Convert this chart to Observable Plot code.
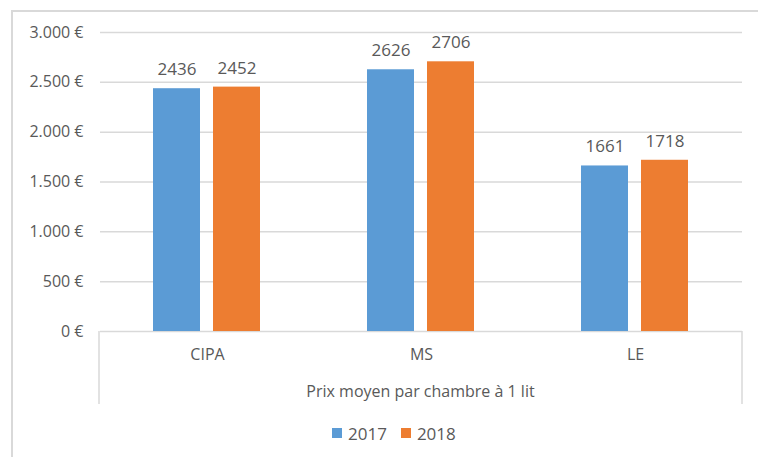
<!DOCTYPE html>
<html>
<head>
<meta charset="utf-8">
<script src="https://cdn.jsdelivr.net/npm/d3@7"></script>
<script src="https://cdn.jsdelivr.net/npm/@observablehq/plot@0.6"></script>
<style>
  html, body { margin: 0; padding: 0; background: #fff; overflow: hidden; width: 758px; height: 457px; }
  #frame { position: absolute; left: 11px; top: 10px; width: 800px; height: 500px; border: 2px solid #d9d9d9; box-sizing: border-box; }
  #chart { position: absolute; left: 0; top: 0; }
  #legend { position: absolute; left: 0; top: 415px; width: 758px; height: 36px; display: flex; align-items: center; font-family: "Open Sans", sans-serif; font-size: 17px; color: #595959; }
  .item { display: flex; align-items: center; }
  .sw { width: 10px; height: 10px; margin-right: 6px; }
</style>
</head>
<body>
<div id="frame"></div>
<div id="chart"></div>
<script>
const categories = ["CIPA", "MS", "LE"];
const years = ["2017", "2018"];
const values2017 = [2436, 2626, 1661];
const values2018 = [2452, 2706, 1718];
const yTicks = [0, 500, 1000, 1500, 2000, 2500, 3000];
const colors = ["#5B9BD5", "#ED7D31"];
const axisTitle = "Prix moyen par chambre à 1 lit";

const data = [];
categories.forEach((c, i) => {
  data.push({cat: c, year: years[0], value: values2017[i]});
  data.push({cat: c, year: years[1], value: values2018[i]});
});

const W = 758, H = 415, mL = 99, mR = 16, mT = 32, mB = 84;
const fmt = d => d3.format(",")(d).replace(/,/g, ".") + " €";

const plot = Plot.plot({
  width: W, height: H,
  marginLeft: mL, marginRight: mR, marginTop: mT, marginBottom: mB,
  style: {fontFamily: "'Open Sans', sans-serif", color: "#595959", background: "transparent"},
  fx: {domain: categories, padding: 0},
  x: {domain: years, paddingInner: 0.213, paddingOuter: 0.866, axis: null},
  y: {domain: [0, 3000]},
  color: {domain: years, range: colors},
  marks: [
    Plot.gridY(yTicks.filter(d => d > 0), {stroke: "#d9d9d9", strokeOpacity: 1, strokeWidth: 1.5}),
    Plot.ruleY([0], {stroke: "#d9d9d9", strokeWidth: 1.5}),
    Plot.barY(data, {fx: "cat", x: "year", y: "value", fill: "year"}),
    Plot.text(data, {fx: "cat", x: "year", y: "value", text: d => String(d.value), dy: -19, fontSize: 17, fill: "#595959"}),
    Plot.axisY({ticks: yTicks, tickFormat: fmt, tickSize: 0, tickPadding: 17, fontSize: 16, label: null}),
    Plot.axisFx({anchor: "bottom", tickSize: 0, tickPadding: 17, fontSize: 16, label: null})
  ]
});
document.getElementById("chart").appendChild(plot);

// axis box (left/right sides of category axis) and axis title
const svg = d3.select(plot.tagName.toLowerCase() === "svg" ? plot : plot.querySelector("svg"));
const y0 = plot.scale("y").apply(0);
[mL, W - mR].forEach(x => {
  svg.append("line").attr("x1", x).attr("x2", x).attr("y1", y0).attr("y2", y0 + 73)
    .attr("stroke", "#d9d9d9").attr("stroke-width", 1.5);
});
svg.append("text").attr("x", (mL + W - mR) / 2).attr("y", y0 + 66)
  .attr("text-anchor", "middle").attr("font-size", 16).attr("fill", "#595959")
  .attr("font-family", "'Open Sans', sans-serif").text(axisTitle);

// legend
const legend = document.createElement("div");
legend.id = "legend";
legend.innerHTML = '<div style="width:332px"></div>' + years.map((y, i) =>
  `<div class="item" style="margin-right:14px"><div class="sw" style="background:${colors[i]}"></div>${y}</div>`).join("");
document.body.appendChild(legend);
</script>
</body>
</html>
